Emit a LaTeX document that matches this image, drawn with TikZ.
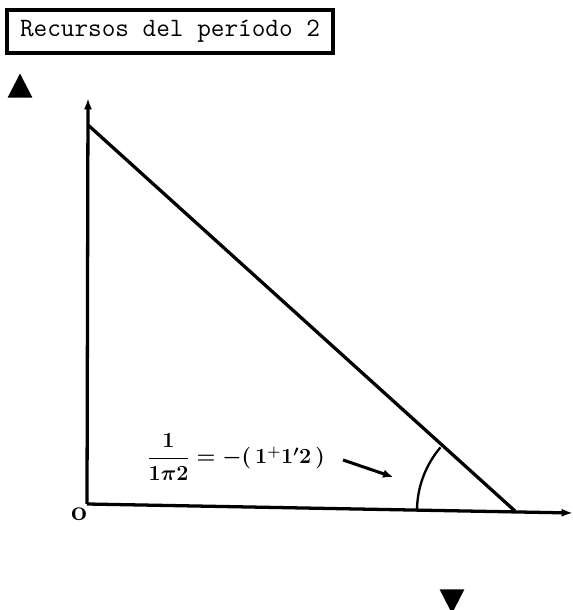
\RequirePackage{fix-cm}
\documentclass[tikz,border=0pt]{standalone}
\usepackage{amsmath}
\usepackage{tikz}
\usetikzlibrary{arrows.meta,shapes.geometric}

\begin{document}
\begin{tikzpicture}[
    x=0.03cm, y=0.03cm,
    axis/.style={-{Latex[length=3.4mm, width=2.4mm]}, line width=2.8pt},
    edge/.style={line width=2.8pt},
    pointer/.style={-{Latex[length=3mm, width=2.6mm]}, line width=2.6pt},
    titlebox/.style={draw, line width=2.6pt, inner sep=0pt, minimum width=9.78cm,
        minimum height=1.29cm, font=\fontsize{22.6}{26}\selectfont\ttfamily},
    marker/.style={isosceles triangle, isosceles triangle stretches, fill=black,
        inner sep=0pt, minimum width=0.74cm, minimum height=0.72cm},
    eqlabel/.style={font=\fontsize{18.4}{22}\selectfont\bfseries\boldmath, inner sep=0pt}
]
\useasboundingbox (0,0) rectangle (573,610);
\node[titlebox] (title) at (170,578.5) {Recursos del período 2};
\node[marker, shape border rotate=90] (up) at (20,520) {};
\node[marker, shape border rotate=-90] (down) at (452,13) {};
\coordinate (O) at (87,106);
\coordinate (ytop) at (88,512);
\coordinate (xend) at (573,97);
\coordinate (A) at (88,485);
\coordinate (B) at (515,99);
\node[font=\fontsize{24}{26}\selectfont\bfseries, inner sep=0pt] (origin) at (79,96) {o};
\draw[axis] (O) -- (ytop);
\draw[axis] (O) -- (xend);
\draw[edge] (A) -- (B);
\draw[line width=2pt] (B) ++(139.5:98) arc[start angle=139.5, end angle=179, radius=98];
\node[eqlabel] (angle) at (236,153) {$\dfrac{1}{1\pi2}=-(\,1{}^{+}1'2\,)$};
\coordinate (tip) at (393,133);
\draw[pointer] (angle.east) ++(18,-3) -- (tip);
\end{tikzpicture}
\end{document}
